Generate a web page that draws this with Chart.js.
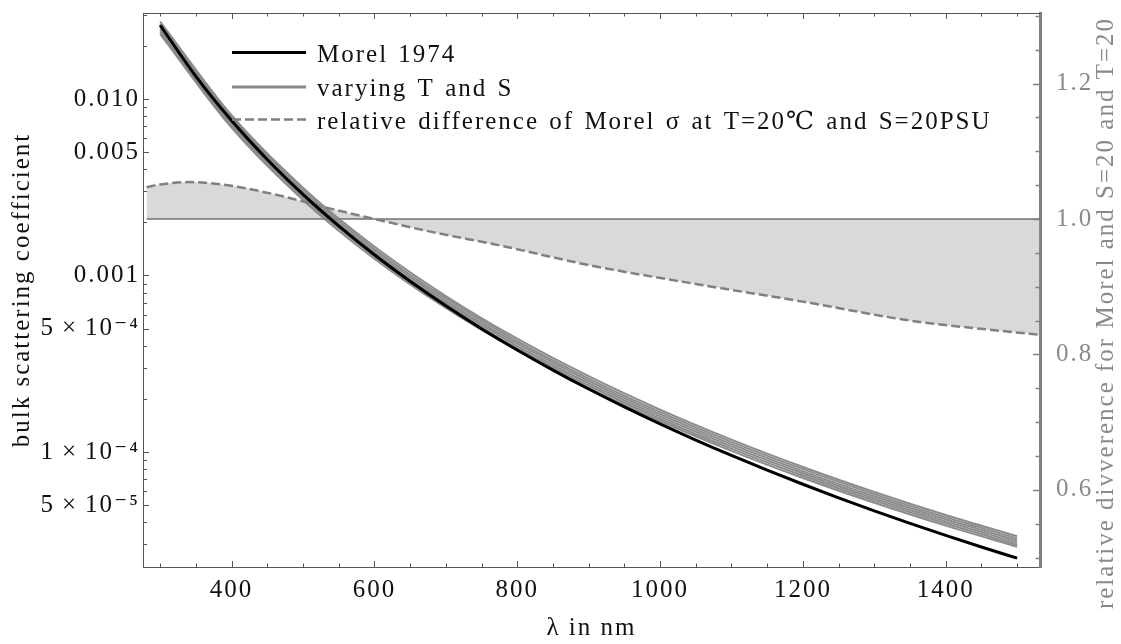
<!DOCTYPE html>
<html><head><meta charset="utf-8">
<script src="https://cdn.jsdelivr.net/npm/chart.js@4"></script>
<style>html,body{margin:0;padding:0;background:#fff}#wrap{width:1121px;height:644px}</style>
</head><body><div id="wrap"><canvas id="c" width="1121" height="644"></canvas></div>
<script>
// ---------- data ----------
const wavelengths = [300,350,400,450,500,550,600,650,700,750,800,850,900,950,1000,1050,1100,1150,1200,1250,1300,1350,1400,1450,1500];
const morel1974 = [0.02617,0.01344,0.007552,0.004540,0.002880,0.001908,0.001310,0.0009272,0.0006731,0.0004996,0.0003781,0.0002910,0.0002273,0.0001800,0.0001442,0.0001168,0.00009554,0.00007885,0.00006562,0.00005501,0.00004643,0.00003944,0.00003370,0.00002896,0.00002502];

const wavelengthsTS = [300,400,500,600,700,800,900,1000,1100,1200,1300,1400,1500];
const varyingTS1 = [0.02329,0.006874,0.002679,0.001246,0.0006545,0.0003758,0.0002310,0.0001498,0.0001015,0.00007125,0.00005154,0.00003824,0.00002902];
const varyingTS2 = [0.02407,0.007102,0.002767,0.001286,0.0006752,0.0003875,0.0002381,0.0001543,0.0001045,0.00007334,0.00005302,0.00003932,0.00002983];
const varyingTS3 = [0.02488,0.007336,0.002858,0.001327,0.0006965,0.0003996,0.0002454,0.0001590,0.0001076,0.00007548,0.00005454,0.00004043,0.00003066];
const varyingTS4 = [0.02572,0.007580,0.002951,0.001370,0.0007187,0.0004120,0.0002528,0.0001638,0.0001108,0.00007766,0.00005610,0.00004156,0.00003150];
const varyingTS5 = [0.02659,0.007832,0.003047,0.001414,0.0007413,0.0004249,0.0002606,0.0001687,0.0001141,0.00007993,0.00005771,0.00004274,0.00003238];
const varyingTS6 = [0.02748,0.008090,0.003146,0.001459,0.0007647,0.0004381,0.0002687,0.0001738,0.0001175,0.00008226,0.00005937,0.00004394,0.00003328];

const relDiffWavelengths = [281,300,340,400,470,540,600,680,780,900,1050,1200,1350,1475,1531];
const relDiffValues = [1.047,1.051,1.0545,1.049,1.034,1.015,1.000,0.981,0.960,0.932,0.904,0.878,0.850,0.835,0.829];

const baselineWavelengths = [281,1532];
const baselineValues = [1.0,1.0];

const xTickValues = [400,600,800,1000,1200,1400];
const yTickValues = [0.01,0.005,0.001,0.0005,0.0001,0.00005];
const yTickLabels = ['0.010','0.005','0.001','5\u2009×\u200910⁻⁴','1\u2009×\u200910⁻⁴','5\u2009×\u200910⁻⁵'];
const y2TickValues = [0.6,0.8,1.0,1.2];
const y2TickLabels = ['0.6','0.8','1.0','1.2'];

const legendLabels = ['Morel 1974','varying T and S','relative difference of Morel σ at T=20℃ and S=20PSU'];
const xTitle = 'λ in nm';
const yTitle = 'bulk scattering coefficient';
const y2Title = 'relative divverence for Morel and S=20 and T=20';

// ---------- helpers ----------
const FONT = "'Liberation Serif','DejaVu Serif','Times New Roman',serif";
const SPACING = '2px';
const FS = 25;
const pts = (xs, ys) => xs.map((x, i) => ({x, y: ys[i]}));
const grayLine = ys => ({
  data: pts(wavelengthsTS, ys), borderColor: 'rgba(128,128,128,0.9)', borderWidth: 2,
  pointRadius: 0, cubicInterpolationMode: 'monotone', yAxisID: 'y', fill: false
});
const noPad = s => { s.paddingTop = 0; s.paddingBottom = 0; s.paddingLeft = 0; s.paddingRight = 0; };

Chart.defaults.font.family = FONT;

const spacingPlugin = {
  id: 'spacing',
  beforeDraw(chart) { chart.ctx.letterSpacing = SPACING; chart.ctx.wordSpacing = '0px'; }
};

const framePlugin = {
  id: 'frameTicks',
  afterDatasetsDraw(chart) {
    const {ctx, chartArea: {left, right, top, bottom}, scales: {x, y, y2}} = chart;
    ctx.save();
    ctx.lineWidth = 1;
    ctx.strokeStyle = '#555';
    ctx.beginPath(); ctx.moveTo(left, top + 0.5); ctx.lineTo(right, top + 0.5); ctx.stroke();
    ctx.beginPath();
    for (let v = 300; v <= 1500; v += 50) {
      const px = Math.round(x.getPixelForValue(v)) + 0.5;
      const len = (v % 200 === 0) ? 6 : 3.5;
      ctx.moveTo(px, bottom); ctx.lineTo(px, bottom - len);
      ctx.moveTo(px, top); ctx.lineTo(px, top + len);
    }
    for (let e = -5; e <= -1; e++) {
      for (let m = 1; m <= 9; m++) {
        const v = m * Math.pow(10, e);
        if (v < y.min || v > y.max) continue;
        const py = Math.round(y.getPixelForValue(v)) + 0.5;
        const len = (m === 1 || m === 5) ? 6 : 4;
        ctx.moveTo(left, py); ctx.lineTo(left + len, py);
      }
    }
    ctx.stroke();
    ctx.strokeStyle = '#808080';
    ctx.lineWidth = 1.5;
    ctx.beginPath();
    for (let k = 10; k <= 26; k++) {
      const v = k * 0.05;
      if (v < y2.min || v > y2.max) continue;
      const py = Math.round(y2.getPixelForValue(v)) + 0.5;
      const len = (k % 4 === 0) ? 7 : 4.5;
      ctx.moveTo(right, py); ctx.lineTo(right - len, py);
    }
    ctx.stroke();
    ctx.restore();
  }
};

const legendPlugin = {
  id: 'customLegend',
  afterDraw(chart) {
    const ctx = chart.ctx;
    const rows = [
      {y: 52.5, color: '#000', width: 3, dash: []},
      {y: 87, color: '#8a8a8a', width: 3, dash: []},
      {y: 119.5, color: '#808080', width: 2.5, dash: [9, 4]}
    ];
    ctx.save();
    ctx.letterSpacing = SPACING;
    ctx.wordSpacing = '2px';
    ctx.font = FS + "px " + FONT;
    ctx.fillStyle = '#111';
    ctx.textAlign = 'left';
    ctx.textBaseline = 'alphabetic';
    rows.forEach((r, i) => {
      ctx.beginPath();
      ctx.setLineDash(r.dash);
      ctx.strokeStyle = r.color; ctx.lineWidth = r.width;
      ctx.moveTo(232, r.y); ctx.lineTo(306, r.y); ctx.stroke();
      ctx.fillText(legendLabels[i], 317, r.y + 9);
    });
    ctx.setLineDash([]);
    // right axis title (reads bottom to top)
    ctx.wordSpacing = '0px';
    ctx.translate(1106, 313);
    ctx.rotate(-Math.PI / 2);
    ctx.textAlign = 'center';
    ctx.textBaseline = 'middle';
    ctx.fillStyle = '#8a8a8a';
    ctx.font = "25px " + FONT;
    ctx.fillText(y2Title, 0, 0);
    ctx.restore();
  }
};

new Chart(document.getElementById('c'), {
  type: 'line',
  data: {
    datasets: [
      {label: legendLabels[0], data: pts(wavelengths, morel1974), borderColor: '#000', borderWidth: 3,
       pointRadius: 0, cubicInterpolationMode: 'monotone', yAxisID: 'y', fill: false},
      grayLine(varyingTS1), grayLine(varyingTS2), grayLine(varyingTS3),
      grayLine(varyingTS4), grayLine(varyingTS5), grayLine(varyingTS6),
      {label: legendLabels[2], data: pts(relDiffWavelengths, relDiffValues), borderColor: '#808080', borderWidth: 2.5,
       borderDash: [9, 4], pointRadius: 0, cubicInterpolationMode: 'monotone', yAxisID: 'y2',
       fill: {value: 1.0}, backgroundColor: '#d9d9d9'},
      {label: 'baseline', data: pts(baselineWavelengths, baselineValues), borderColor: '#333', borderWidth: 1,
       pointRadius: 0, yAxisID: 'y2', fill: false}
    ]
  },
  options: {
    responsive: false,
    animation: false,
    devicePixelRatio: 1,
    layout: {padding: {top: 13, left: 0, right: 0, bottom: 0}},
    plugins: {legend: {display: false}, tooltip: {enabled: false}, filler: {drawTime: 'beforeDatasetsDraw'}},
    scales: {
      x: {
        type: 'linear', position: 'bottom', min: 276, max: 1532,
        afterFit(s) { s.height = 77; noPad(s); },
        afterBuildTicks(s) { s.ticks = xTickValues.map(v => ({value: v})); },
        ticks: {font: {size: FS}, color: '#111', padding: 8, maxRotation: 0, autoSkip: false,
                callback: v => String(v)},
        grid: {display: false, drawTicks: false},
        border: {display: true, color: '#555', width: 1},
        title: {display: true, text: xTitle, font: {size: FS}, color: '#111', padding: {top: 0, bottom: 1}}
      },
      y: {
        type: 'logarithmic', position: 'left', min: 0.0000223, max: 0.0307,
        afterFit(s) { s.width = 143; noPad(s); },
        afterBuildTicks(s) { s.ticks = yTickValues.map(v => ({value: v})); },
        ticks: {font: {size: FS}, color: '#111', padding: 3, autoSkip: false,
                callback: v => { const i = yTickValues.findIndex(t => Math.abs(t - v) / t < 1e-6); return i >= 0 ? yTickLabels[i] : ''; }},
        grid: {display: false, drawTicks: false},
        border: {display: true, color: '#555', width: 1},
        title: {display: true, text: yTitle, font: {size: FS}, color: '#111', padding: {top: 7, bottom: 0}}
      },
      y2: {
        type: 'linear', position: 'right', min: 0.486, max: 1.3043,
        afterFit(s) { s.width = 81; noPad(s); },
        afterBuildTicks(s) { s.ticks = y2TickValues.map(v => ({value: v})); },
        ticks: {font: {size: FS}, color: '#8a8a8a', padding: 16, autoSkip: false,
                callback: v => { const i = y2TickValues.findIndex(t => Math.abs(t - v) < 1e-6); return i >= 0 ? y2TickLabels[i] : ''; }},
        grid: {display: false, drawTicks: false},
        border: {display: true, color: '#808080', width: 3}
      }
    }
  },
  plugins: [spacingPlugin, framePlugin, legendPlugin]
});
</script></body></html>
